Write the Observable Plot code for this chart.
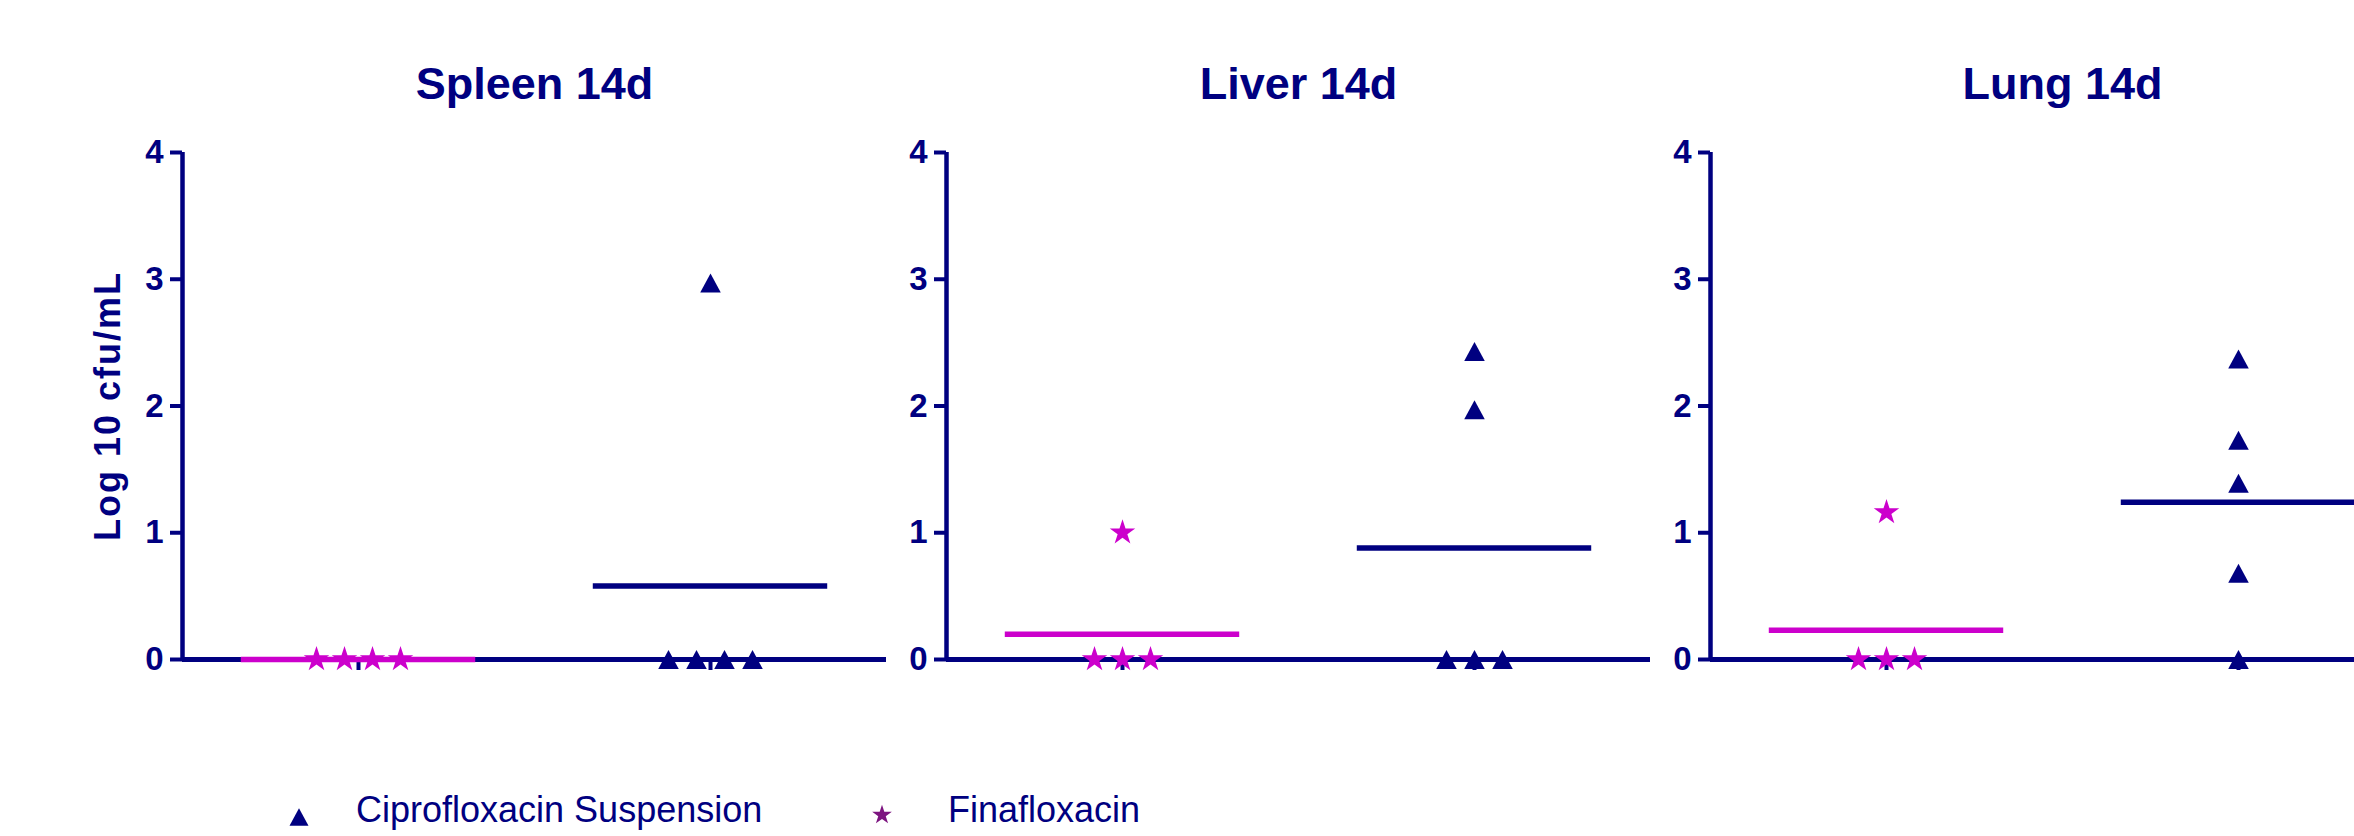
<!DOCTYPE html>
<html><head><meta charset="utf-8">
<script src="https://cdn.jsdelivr.net/npm/d3@7"></script>
<script src="https://cdn.jsdelivr.net/npm/@observablehq/plot@0.6"></script>
<style>
html,body{margin:0;padding:0;background:#fff;}
#wrap{position:relative;width:2354px;height:836px;overflow:hidden;background:#fff;}
#wrap svg{position:absolute;top:0;max-width:none;overflow:visible;}
</style></head><body><div id="wrap"></div>
<script>
// ---- data ----
const organs = ["Spleen 14d", "Liver 14d", "Lung 14d"];
const groups = ["Finafloxacin", "Ciprofloxacin Suspension"];
const finaValues = [[0, 0, 0, 0], [1.00, 0, 0, 0], [1.16, 0, 0, 0]];
const ciproValues = [[2.97, 0, 0, 0, 0], [2.43, 1.97, 0, 0, 0], [2.37, 1.73, 1.39, 0.68, 0]];
const finaMeans = [0, 0.20, 0.23];
const ciproMeans = [0.58, 0.88, 1.24];
const yTicks = [0, 1, 2, 3, 4];
const yLabel = "Log 10 cfu/mL";

// ---- styling ----
const NAVY = "#000080", MAGENTA = "#cc00cc", PURPLE = "#7d1580";
const FONT = "'Liberation Sans', Arial, Helvetica, sans-serif";
const STEP = 764, ML = 182, FRAME = 704, SLOT = 28 / 352;

// triangle centred on its bounding box (as in the original software)
const triangleBox = {
  draw(ctx, size) {
    const r = Math.sqrt(size / Math.PI), w = 1.3 * r, h = 1.2 * r;
    ctx.moveTo(0, -h); ctx.lineTo(w, h); ctx.lineTo(-w, h); ctx.closePath();
  }
};

// spread tied values side by side around the group centre
function spread(values, gi) {
  const counts = d3.rollup(values, v => v.length, d => d);
  const seen = new Map();
  return values.map(v => {
    const n = counts.get(v), i = seen.get(v) ?? 0;
    seen.set(v, i + 1);
    return {group: groups[gi], value: v, x: gi + (i - (n - 1) / 2) * SLOT};
  });
}

const wrap = document.getElementById("wrap");

organs.forEach((organ, k) => {
  const fina = spread(finaValues[k], 0);
  const cipro = spread(ciproValues[k], 1);
  const fm = [{g: 0, mean: finaMeans[k]}];
  const cm = [{g: 1, mean: ciproMeans[k]}];
  const marks = [
    Plot.ruleY([0], {stroke: NAVY, strokeWidth: 5}),
    Plot.ruleX([-0.5], {stroke: NAVY, strokeWidth: 4.5}),
    Plot.axisY({ticks: yTicks, tickSize: 12, tickPadding: 7, tickFormat: d3.format("d"), fontSize: 33,
                fontWeight: "bold", color: NAVY, strokeWidth: 4, label: null}),
    Plot.axisX({ticks: [0, 1], tickSize: 11, tickFormat: () => "", color: NAVY, strokeWidth: 4, label: null}),
    Plot.ruleY(fm, {y: "mean", x1: d => d.g - 0.333, x2: d => d.g + 0.333, stroke: MAGENTA, strokeWidth: 5.5}),
    Plot.ruleY(cm, {y: "mean", x1: d => d.g - 0.333, x2: d => d.g + 0.333, stroke: NAVY, strokeWidth: 5.5}),
    Plot.dot(fina, {x: "x", y: "value", symbol: "star", fill: MAGENTA, r: 8}),
    Plot.dot(cipro, {x: "x", y: "value", symbol: triangleBox, fill: NAVY, r: 7.9}),
    Plot.text([organ], {frameAnchor: "top", dy: -54, lineAnchor: "bottom", fontSize: 45,
                        fontWeight: "bold", fill: NAVY})
  ];
  if (k === 0) {
    marks.push(Plot.text([yLabel], {frameAnchor: "left", dx: -74, rotate: -90, fontSize: 36,
                                    fontWeight: "bold", fill: NAVY, textAnchor: "middle", lineAnchor: "middle"}));
  }
  const svg = Plot.plot({
    width: ML + FRAME + 30, height: 700,
    marginLeft: ML, marginRight: 30, marginTop: 152, marginBottom: 41,
    x: {domain: [-0.5, 1.5]},
    y: {domain: [0, 4]},
    style: {fontFamily: FONT, color: NAVY, background: "transparent", overflow: "visible"},
    marks
  });
  svg.style.left = (k * STEP) + "px";
  if (k === 0) {
    d3.select(svg).selectAll("text").filter(function () { return this.textContent === yLabel; })
      .style("letter-spacing", "2px");
  }
  wrap.appendChild(svg);
});

// ---- legend below the panels ----
const leg = d3.select(wrap).append("svg")
  .attr("width", 2354).attr("height", 836).style("left", "0px").style("pointer-events", "none");
const items = [
  {label: groups[1], symbol: triangleBox, size: Math.PI * 7.3 * 7.3, fill: NAVY, sx: 299, sy: 817, tx: 356},
  {label: groups[0], symbol: d3.symbolStar, size: 120, fill: PURPLE, sx: 882, sy: 815, tx: 948}
];
items.forEach(it => {
  leg.append("path").attr("d", d3.symbol(it.symbol, it.size)())
    .attr("transform", `translate(${it.sx},${it.sy})`).attr("fill", it.fill);
  leg.append("text").attr("x", it.tx).attr("y", 822).attr("fill", NAVY)
    .style("font-family", FONT).style("font-size", "36px").text(it.label);
});
</script>
</body></html>
